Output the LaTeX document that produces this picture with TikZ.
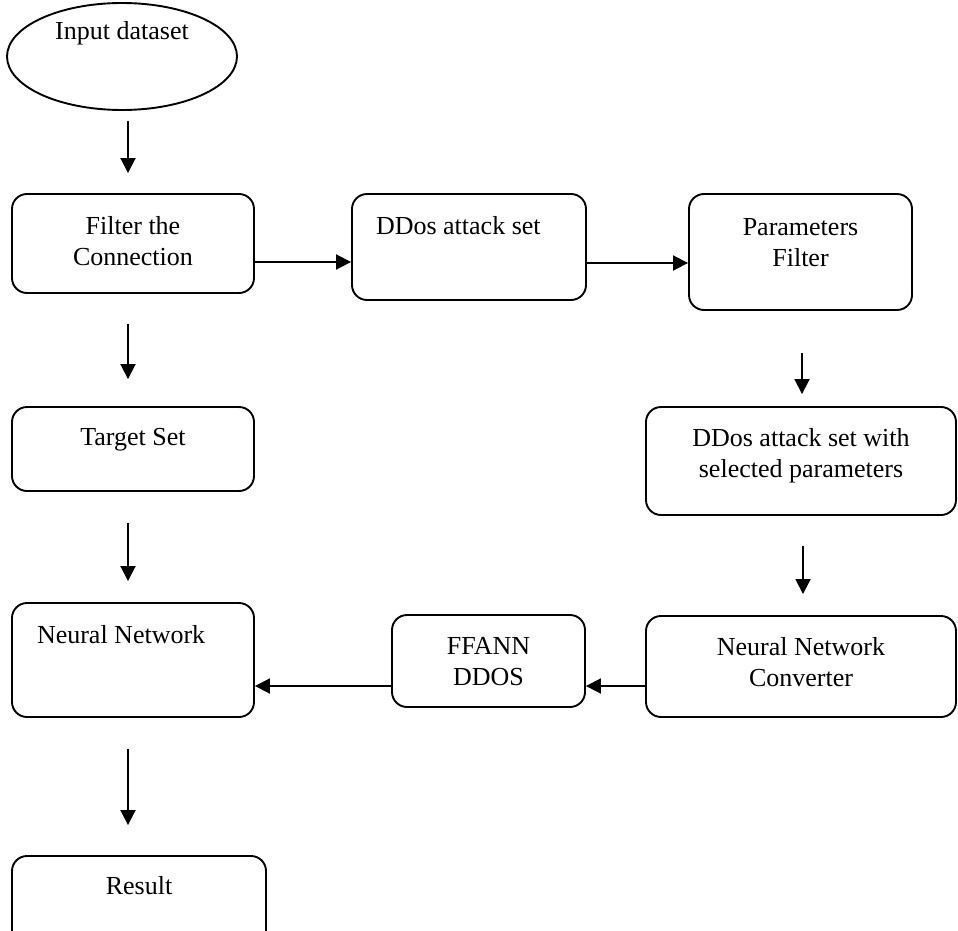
\documentclass[tikz,border=0pt]{standalone}
\usepackage{fontspec}
\setmainfont{Liberation Serif}
\usetikzlibrary{shapes.geometric,arrows.meta}

\begin{document}
\begin{tikzpicture}[x=1pt,y=-1pt,
  every node/.style={font=\fontsize{26}{30.5}\selectfont,inner sep=0pt,text height=18pt},
  stepbox/.style={draw,line width=1.9pt,rounded corners=15pt,align=center},
  twoline/.style={text height=48.5pt},
  arr/.style={-{Triangle[length=15pt,width=15pt]},line width=1.9pt}]
  \useasboundingbox (0,0) rectangle (958,931);

  \node[draw,ellipse,line width=1.9pt,minimum width=230pt,minimum height=107pt,text depth=51pt] (input) at (122,56.5) {Input dataset};

  \node[stepbox,twoline,minimum width=242pt,minimum height=99pt,text depth=5.5pt] (filter) at (133,243.5) {Filter the\\Connection};
  \node[stepbox,minimum width=234pt,minimum height=106pt,text depth=44pt,align=flush left,text width=186pt,inner xsep=24pt] (ddos) at (469,247) {DDos attack set};
  \node[stepbox,twoline,minimum width=223pt,minimum height=116pt,text depth=20.5pt] (param) at (800.5,252) {Parameters\\Filter};
  \node[stepbox,minimum width=242pt,minimum height=84pt,text depth=26pt] (target) at (133,449) {Target Set};
  \node[stepbox,twoline,minimum width=310pt,minimum height=108pt,text depth=16.5pt] (dsel) at (801,461) {DDos attack set with\\selected parameters};
  \node[stepbox,minimum width=242pt,minimum height=114pt,text depth=52pt,align=flush left,text width=192pt,inner xsep=25pt] (nn) at (133,660) {Neural Network};
  \node[stepbox,twoline,minimum width=193pt,minimum height=92pt,text depth=0.5pt] (ffann) at (488.5,661) {FFANN\\DDOS};
  \node[stepbox,twoline,minimum width=310pt,minimum height=101pt,text depth=9.5pt] (conv) at (801,666.5) {Neural Network\\Converter};
  \node[stepbox,minimum width=254pt,minimum height=104pt,text depth=46pt] (result) at (139,908) {Result};

  % arrows
  \draw[arr,shorten <=10pt,shorten >=20pt] ([xshift=-5pt]filter.north |- input.south) -- ([xshift=-5pt]filter.north);
  \draw[arr] ([yshift=-18.5pt]filter.east) -- ([yshift=-18.5pt]filter.east -| ddos.west);
  \draw[arr] ([yshift=-16pt]ddos.east) -- ([yshift=-16pt]ddos.east -| param.west);
  \draw[arr,shorten <=30pt,shorten >=27pt] ([xshift=-5pt]filter.south) -- ([xshift=-5pt]target.north);
  \draw[arr,shorten <=42pt,shorten >=12pt] ([xshift=1.5pt]param.south) -- ([xshift=1.5pt]param.south |- dsel.north);
  \draw[arr,shorten <=31pt,shorten >=21pt] ([xshift=-5pt]target.south) -- ([xshift=-5pt]nn.north);
  \draw[arr,shorten <=30pt,shorten >=21pt] ([xshift=2pt]dsel.south) -- ([xshift=2pt]conv.north);
  \draw[arr] ([yshift=-19.5pt]conv.west) -- ([yshift=-19.5pt]conv.west -| ffann.east);
  \draw[arr] ([yshift=-25pt]ffann.west) -- ([yshift=-25pt]ffann.west -| nn.east);
  \draw[arr,shorten <=31pt,shorten >=30pt] ([xshift=-5pt]nn.south) -- ([xshift=-5pt]nn.south |- result.north);
\end{tikzpicture}
\end{document}
